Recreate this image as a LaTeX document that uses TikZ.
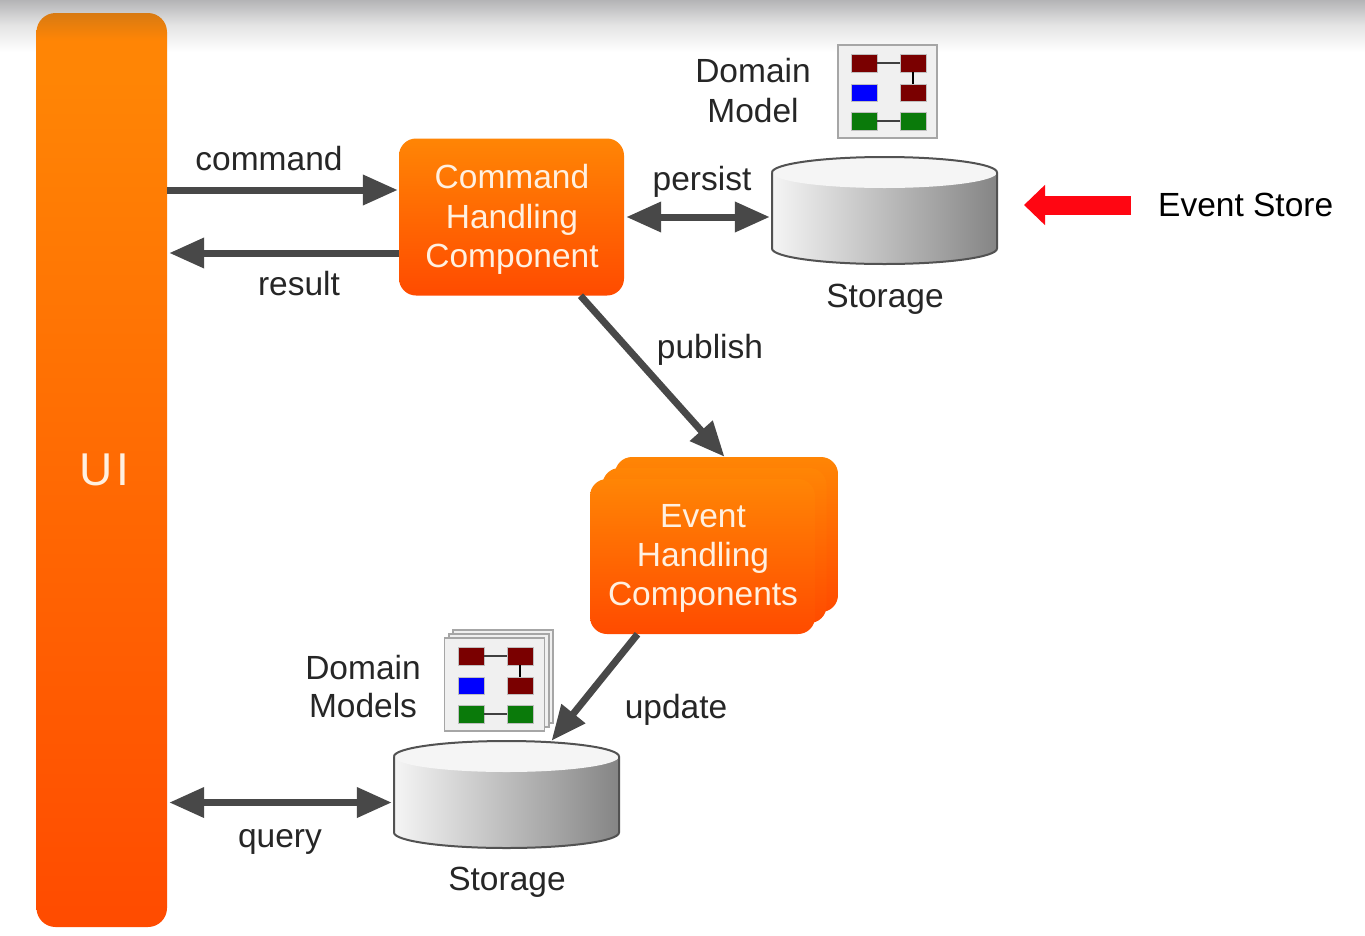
\documentclass[tikz,border=0pt]{standalone}
\usepackage{fontspec}
\setmainfont{Liberation Sans}
\usetikzlibrary{arrows.meta,shadings}
\definecolor{boxtxt}{HTML}{FFF0E0}
\definecolor{lbl}{HTML}{262626}
\definecolor{arrowc}{HTML}{484848}
\definecolor{oA}{HTML}{FF4B00}
\definecolor{oB}{HTML}{FF8505}
\definecolor{oC}{HTML}{D87A12}
\definecolor{mred}{HTML}{7A0000}
\definecolor{mblue}{HTML}{0000FF}
\definecolor{mgreen}{HTML}{0A7A0A}
\definecolor{estore}{HTML}{FF0612}
\definecolor{bandA}{HTML}{B4B4B6}
\definecolor{bandB}{HTML}{E4E4E4}
\pgfdeclareverticalshading{uishade}{100bp}{color(0bp)=(oA);color(25bp)=(oA);color(71.5bp)=(oB);color(73.5bp)=(oB);color(75bp)=(oC);color(100bp)=(oC)}
\tikzset{
  lab/.style={font=\fontsize{33.5}{39.5}\selectfont,text=lbl,align=center,inner sep=0pt},
  orangebox/.style={rectangle,rounded corners=17pt,top color=oB,bottom color=oA,draw=none,inner sep=0pt,
    font=\fontsize{33.5}{39.5}\selectfont,text=boxtxt,align=center},
  conn/.style={draw=arrowc,line width=7pt,-{Triangle[length=35pt,width=29pt]}},
  conntwo/.style={draw=arrowc,line width=7pt,{Triangle[length=35pt,width=29pt]}-{Triangle[length=35pt,width=29pt]}},
  sheet/.style={rectangle,draw=black!35,fill=black!6,line width=1.5pt,minimum width=99pt,minimum height=93pt,inner sep=0pt},
  cell/.style={rectangle,minimum width=26pt,minimum height=17.5pt,inner sep=0pt,draw=black!25,line width=0.5pt},
  tie/.style={draw=black!75,line width=1.6pt},
  cyl/.style={rectangle,minimum width=225pt,minimum height=107pt,inner sep=0pt,draw=none}
}
% name, centre x, centre y of a storage cylinder
\newcommand{\storagecyl}[3]{%
  \node[cyl] (#1) at (#2,#3) {};
  \shade[left color=black!4,middle color=black!24,right color=black!48]
    (#2-112.5,#3-38) -- (#2-112.5,#3+38) arc[start angle=180,end angle=360,x radius=112.5pt,y radius=15.5pt]
    -- (#2+112.5,#3-38) -- cycle;
  \fill[black!4] (#2,#3-38) ellipse[x radius=112.5pt,y radius=15.5pt];
  \draw[black!68,line width=2pt,line join=round]
    (#2-112.5,#3-38) -- (#2-112.5,#3+38) arc[start angle=180,end angle=360,x radius=112.5pt,y radius=15.5pt]
    -- (#2+112.5,#3-38) arc[start angle=0,end angle=180,x radius=112.5pt,y radius=15.5pt];
}
% prefix, centre x, centre y of a domain-model sheet
\newcommand{\modelcells}[3]{%
  \node[cell,fill=mred]   (#1a) at (#2-23.5,#3-29) {};
  \node[cell,fill=mred]   (#1b) at (#2+25.5,#3-29) {};
  \node[cell,fill=mblue]  (#1c) at (#2-23.5,#3+0.5) {};
  \node[cell,fill=mred]   (#1d) at (#2+25.5,#3+0.5) {};
  \node[cell,fill=mgreen] (#1e) at (#2-23.5,#3+29) {};
  \node[cell,fill=mgreen] (#1f) at (#2+25.5,#3+29) {};
  \draw[tie] (#1a) -- (#1b);
  \draw[tie,black] (#1b) -- (#1d);
  \draw[tie] (#1e) -- (#1f);
}
\begin{document}
\begin{tikzpicture}[x=1pt,y=-1pt]
\useasboundingbox (0,0) rectangle (1365,935);
\fill[white] (0,0) rectangle (1365,935);
\shade[top color=bandA,bottom color=bandB] (0,0) rectangle (1365,25);
\shade[top color=bandB,bottom color=white] (0,25) rectangle (1365,52);

% UI
\node[rectangle,rounded corners=19pt,shading=uishade,inner sep=0pt,minimum width=130.5pt,minimum height=914pt] (ui) at (101.75,470) {};
\node[inner sep=0pt,text=boxtxt,font=\fontsize{46}{46}\selectfont] (uit) at (104,470) {U\kern4pt I};

% command handling
\node[orangebox,minimum width=225pt,minimum height=157pt] (cmd) at (511.5,217) {};
\node[inner sep=0pt,font=\fontsize{33.5}{39.5}\selectfont,text=boxtxt,align=center] (cmdt) at (512,219.5) {Command\\Handling\\Component};

% storage top
\storagecyl{st}{884.5}{210.5}
\node[lab] (stl) at (885,299.5) {Storage};
\node[sheet] (dm) at (887.5,91.5) {};
\modelcells{p}{887.5}{92}
\node[lab] (dml) at (753,90.5) {Domain\\Model};

% event handling stack
\node[orangebox,minimum width=223pt,minimum height=155pt] (ev3) at (726.5,534.5) {};
\node[orangebox,minimum width=224pt,minimum height=155pt] (ev2) at (714.5,545.5) {};
\node[orangebox,minimum width=225pt,minimum height=155pt] (ev) at (702.5,556.5) {};
\node[inner sep=0pt,font=\fontsize{33.5}{39}\selectfont,text=boxtxt,align=center] (evt) at (703,558) {Event\\Handling\\Components};

% storage bottom
\storagecyl{sb}{506.5}{794.5}
\node[lab] (sbl) at (507,882.5) {Storage};
\node[sheet,minimum width=100pt] (ds3) at (503,676.5) {};
\node[sheet,minimum width=100pt] (ds2) at (499,680.5) {};
\node[sheet,minimum width=100pt] (ds) at (494.5,684.5) {};
\modelcells{q}{494.5}{685}
\node[lab,font=\fontsize{33.5}{38}\selectfont] (dsl) at (363,687) {Domain\\Models};

% connectors
\coordinate (cmdin) at ([yshift=27pt]cmd.west);
\coordinate (cmdout) at ([yshift=-36pt]cmd.west);
\coordinate (stin) at (st.west |- cmd.center);
\coordinate (pubA) at ([xshift=69pt]cmd.south);
\coordinate (pubB) at ([xshift=-2pt]ev3.north);
\coordinate (updA) at ([xshift=-65pt]ev.south);
\coordinate (updB) at ([xshift=45pt]sb.north);
\coordinate (qry) at ([yshift=-8pt]sb.west);
\draw[conn] (ui.east |- cmdin) -- ([xshift=-1pt]cmdin);
\draw[conn] (cmdout) -- ([xshift=2pt]ui.east |- cmdout);
\draw[conntwo] ([xshift=2pt]cmd.center -| cmd.east) -- ([xshift=-2pt]stin);
\draw[conn] (pubA) -- (pubB);
\draw[conn] (updA) -- (updB);
\draw[conntwo] ([xshift=2pt]ui.east |- qry) -- ([xshift=-2pt]qry);

% connector labels
\node[lab] (l1) at (269,158.5) {command};
\node[lab] (l2) at (299,284) {result};
\node[lab] (l3) at (702,182) {persist};
\node[lab] (l4) at (710,350) {publish};
\node[lab] (l5) at (676,710) {update};
\node[lab] (l6) at (280,842) {query};

% event store callout
\node[lab,text=black,anchor=west] (es) at (1158,205) {Event Store};
\coordinate (esa) at (1131,205);
\coordinate (esb) at (1024,205);
\draw[estore,line width=19pt,-{Triangle[length=21pt,width=39pt]}] (esa) -- (esb);
\end{tikzpicture}
\end{document}
